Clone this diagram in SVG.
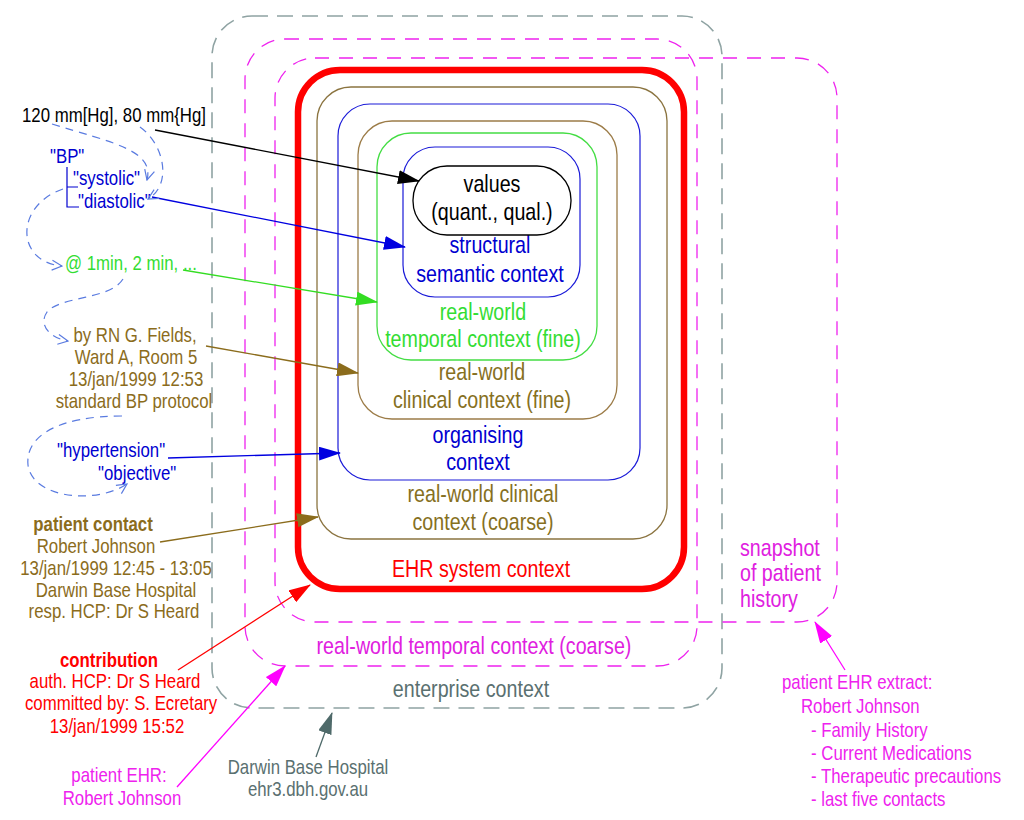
<svg xmlns="http://www.w3.org/2000/svg" width="1024" height="820" viewBox="0 0 1024 820">
<style>
text{font-family:"Liberation Sans Narrow","Liberation Sans",Arial,sans-serif;transform-box:fill-box;transform-origin:0% 50%;transform:scaleX(0.82)}
.lg{font-size:24px}
.sm{font-size:20.5px}
.mid{text-anchor:middle;transform-origin:50% 50%}
.b{font-weight:bold}
.box{fill:none}
.conn{fill:none;stroke-width:1.3}
.curve{fill:none;stroke:#5a7be0;stroke-width:1.2;stroke-dasharray:8 6;marker-end:url(#open)}
</style>
<defs>
<marker id="aBlack" markerUnits="userSpaceOnUse" viewBox="0 0 22 14" markerWidth="22" markerHeight="14" refX="21" refY="7" orient="auto"><path d="M0,0 L22,7 L0,14 z" fill="#000"/></marker>
<marker id="aBlue" markerUnits="userSpaceOnUse" viewBox="0 0 22 14" markerWidth="22" markerHeight="14" refX="21" refY="7" orient="auto"><path d="M0,0 L22,7 L0,14 z" fill="#0000e0"/></marker>
<marker id="aGreen" markerUnits="userSpaceOnUse" viewBox="0 0 22 14" markerWidth="22" markerHeight="14" refX="21" refY="7" orient="auto"><path d="M0,0 L22,7 L0,14 z" fill="#33dd22"/></marker>
<marker id="aBrown" markerUnits="userSpaceOnUse" viewBox="0 0 22 14" markerWidth="22" markerHeight="14" refX="21" refY="7" orient="auto"><path d="M0,0 L22,7 L0,14 z" fill="#8b6c1c"/></marker>
<marker id="aRed" markerUnits="userSpaceOnUse" viewBox="0 0 22 14" markerWidth="22" markerHeight="14" refX="21" refY="7" orient="auto"><path d="M0,0 L22,7 L0,14 z" fill="#ff0000"/></marker>
<marker id="aMag" markerUnits="userSpaceOnUse" viewBox="0 0 22 14" markerWidth="22" markerHeight="14" refX="21" refY="7" orient="auto"><path d="M0,0 L22,7 L0,14 z" fill="#ff00ff"/></marker>
<marker id="aGray" markerUnits="userSpaceOnUse" viewBox="0 0 22 14" markerWidth="22" markerHeight="14" refX="21" refY="7" orient="auto"><path d="M0,0 L22,7 L0,14 z" fill="#4f6a6a"/></marker>
<marker id="open" markerUnits="userSpaceOnUse" viewBox="0 0 12 12" markerWidth="12" markerHeight="12" refX="11" refY="6" orient="auto"><path d="M1,1 L11,6 L1,11" fill="none" stroke="#5a7be0" stroke-width="1.2" stroke-dasharray="none"/></marker>
</defs>
<rect width="1024" height="820" fill="#fff"/>

<g id="enterprise">
<rect class="box" x="212" y="16" width="510" height="692" rx="40" stroke="#8fa3a3" stroke-width="1.6" stroke-dasharray="16 9"/>
<text class="lg mid" x="471" y="697" fill="#5a7070">enterprise context</text>
</g>
<g id="temporal-coarse">
<rect class="box" x="245" y="39" width="452" height="627" rx="40" stroke="#ee22ee" stroke-width="1.3" stroke-dasharray="14 10"/>
<text class="lg mid" x="474" y="654" fill="#e020e0">real-world temporal context (coarse)</text>
</g>
<g id="snapshot">
<rect class="box" x="275" y="58" width="562" height="564" rx="40" stroke="#ee22ee" stroke-width="1.3" stroke-dasharray="14 10"/>
<text class="lg" x="740" y="556" fill="#e020e0">snapshot</text>
<text class="lg" x="740" y="581" fill="#e020e0">of patient</text>
<text class="lg" x="740" y="607" fill="#e020e0">history</text>
</g>
<g id="ehr-system">
<rect class="box" x="298" y="70" width="386" height="519" rx="42" stroke="#ff0000" stroke-width="6.5"/>
<text class="lg mid" x="481" y="577" fill="#ff0000">EHR system context</text>
</g>
<g id="clinical-coarse">
<rect class="box" x="317" y="87" width="350" height="452" rx="34" stroke="#8b7440" stroke-width="1.3"/>
<text class="lg mid" x="483" y="502" fill="#86701e">real-world clinical</text>
<text class="lg mid" x="483" y="530" fill="#86701e">context (coarse)</text>
</g>
<g id="organising">
<rect class="box" x="338" y="104" width="302" height="376" rx="32" stroke="#1a1ad8" stroke-width="1.2"/>
<text class="lg mid" x="478" y="443" fill="#0000d0">organising</text>
<text class="lg mid" x="478" y="470" fill="#0000d0">context</text>
</g>
<g id="clinical-fine">
<rect class="box" x="358" y="121" width="259" height="298" rx="34" stroke="#9c7c48" stroke-width="1.3"/>
<text class="lg mid" x="482" y="380" fill="#86701e">real-world</text>
<text class="lg mid" x="482" y="408" fill="#86701e">clinical context (fine)</text>
</g>
<g id="temporal-fine">
<rect class="box" x="377" y="133" width="220" height="227" rx="34" stroke="#44dd44" stroke-width="1.3"/>
<text class="lg mid" x="483" y="320" fill="#33dd33">real-world</text>
<text class="lg mid" x="483" y="347" fill="#33dd33">temporal context (fine)</text>
</g>
<g id="structural">
<rect class="box" x="403" y="147" width="177" height="150" rx="32" stroke="#1a1ad8" stroke-width="1.2"/>
<text class="lg mid" x="490" y="253" fill="#0000d0">structural</text>
<text class="lg mid" x="490" y="282" fill="#0000d0">semantic context</text>
</g>
<g id="values">
<rect class="box" x="413" y="166" width="158" height="69" rx="34" stroke="#000" stroke-width="1.3"/>
<text class="lg mid" x="492" y="192" fill="#000">values</text>
<text class="lg mid" x="492" y="220" fill="#000">(quant., qual.)</text>
</g>

<g id="data-value">
<text class="sm" x="22" y="122" fill="#000">120 mm[Hg], 80 mm{Hg]</text>
</g>
<g id="structure-labels">
<text class="sm" x="50" y="163" fill="#0000d0">"BP"</text>
<text class="sm" x="73" y="185" fill="#0000d0">"systolic"</text>
<text class="sm" x="78" y="208" fill="#0000d0">"diastolic"</text>
<path d="M67,167 V207 H79 M67,187 H78" fill="none" stroke="#0000d0" stroke-width="1.2"/>
</g>
<g id="times">
<text class="sm" x="65" y="270" fill="#33dd33">@ 1min, 2 min, ...</text>
</g>
<g id="observer">
<text class="sm mid" x="135" y="342" fill="#8b6c1c">by RN G. Fields,</text>
<text class="sm mid" x="136" y="364" fill="#8b6c1c">Ward A, Room 5</text>
<text class="sm mid" x="136" y="386" fill="#8b6c1c">13/jan/1999 12:53</text>
<text class="sm mid" x="134" y="408" fill="#8b6c1c">standard BP protocol</text>
</g>
<g id="organiser">
<text class="sm" x="57" y="457" fill="#0000d0">"hypertension"</text>
<text class="sm" x="98" y="480" fill="#0000d0">"objective"</text>
</g>
<g id="patient-contact">
<text class="sm mid b" x="93" y="531" fill="#8b6c1c">patient contact</text>
<text class="sm mid" x="96" y="553" fill="#8b6c1c">Robert Johnson</text>
<text class="sm mid" x="116" y="575" fill="#8b6c1c">13/jan/1999 12:45 - 13:05</text>
<text class="sm mid" x="116" y="597" fill="#8b6c1c">Darwin Base Hospital</text>
<text class="sm mid" x="114" y="618" fill="#8b6c1c">resp. HCP: Dr S Heard</text>
</g>
<g id="contribution">
<text class="sm mid b" x="109" y="667" fill="#ff0000">contribution</text>
<text class="sm mid" x="115" y="688" fill="#ff0000">auth. HCP: Dr S Heard</text>
<text class="sm mid" x="121" y="710" fill="#ff0000">committed by: S. Ecretary</text>
<text class="sm mid" x="117" y="733" fill="#ff0000">13/jan/1999 15:52</text>
</g>
<g id="patient-ehr">
<text class="sm mid" x="119" y="782" fill="#ee22ee">patient EHR:</text>
<text class="sm mid" x="122" y="805" fill="#ee22ee">Robert Johnson</text>
</g>
<g id="hospital">
<text class="sm mid" x="308" y="774" fill="#5a7070">Darwin Base Hospital</text>
<text class="sm mid" x="308" y="796" fill="#5a7070">ehr3.dbh.gov.au</text>
</g>
<g id="extract">
<text class="sm" x="782" y="689" fill="#ee22ee">patient EHR extract:</text>
<text class="sm" x="801" y="713" fill="#ee22ee">Robert Johnson</text>
<text class="sm" x="811" y="737" fill="#ee22ee">- Family History</text>
<text class="sm" x="811" y="760" fill="#ee22ee">- Current Medications</text>
<text class="sm" x="811" y="783" fill="#ee22ee">- Therapeutic precautions</text>
<text class="sm" x="811" y="806" fill="#ee22ee">- last five contacts</text>
</g>

<g id="connectors">
<path class="conn" d="M155,130 L419,181" stroke="#000" marker-end="url(#aBlack)"/>
<path class="conn" d="M152,197 L405,247" stroke="#0000e0" marker-end="url(#aBlue)"/>
<path class="conn" d="M183,270 L377,302" stroke="#33dd22" marker-end="url(#aGreen)"/>
<path class="conn" d="M206,346 L358,373" stroke="#8b6c1c" marker-end="url(#aBrown)"/>
<path class="conn" d="M168,458 L340,453" stroke="#0000e0" marker-end="url(#aBlue)"/>
<path class="conn" d="M160,542 L318,517" stroke="#8b6c1c" marker-end="url(#aBrown)"/>
<path class="conn" d="M178,670 L310,585" stroke="#ff0000" marker-end="url(#aRed)"/>
<path class="conn" d="M177,787 L285,666" stroke="#ff00ff" marker-end="url(#aMag)"/>
<path class="conn" d="M316,757 L332,713" stroke="#4f6a6a" marker-end="url(#aGray)"/>
<path class="conn" d="M845,670 L815,622" stroke="#ff00ff" marker-end="url(#aMag)"/>
<path class="curve" d="M52,124 C110,142 155,150 147,180"/>
<path class="curve" d="M140,127 C165,145 172,185 148,199"/>
<path class="curve" d="M63,189 C15,205 15,262 62,266"/>
<path class="curve" d="M123,279 C110,300 60,296 47,312 C38,325 50,338 68,341"/>
<path class="curve" d="M122,416 C60,416 25,435 28,465 C32,498 95,505 127,484"/>
</g>
</svg>
